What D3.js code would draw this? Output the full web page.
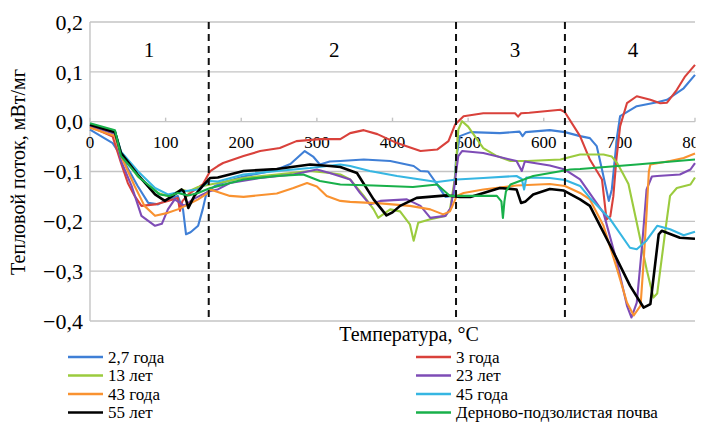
<!DOCTYPE html>
<html><head><meta charset="utf-8">
<script src="https://cdn.jsdelivr.net/npm/d3@7"></script>
</head><body style="margin:0">
<svg id="c" width="712" height="422"></svg>
<script>
// ---- data ----
const xTicks = [0,100,200,300,400,500,600,700,800];
const yTicks = [0.2,0.1,0,-0.1,-0.2,-0.3,-0.4];
const regionBounds = [157,484,628];
const regionLabels = ["1","2","3","4"];
const regionLabelT = [78,323,562,718];
const seriesNames = ["2,7 года","3 года","13 лет","23 лет","43 года","45 года","55 лет","Дерново-подзолистая почва"];
const seriesColors = ["#3f7fd6","#d9413b","#9bcb3e","#7e4cb6","#f99230","#36b6e2","#000000","#18b04a"];

const s27 = [[0,-0.016],[30,-0.043],[41,-0.069],[63,-0.129],[77,-0.163],[90,-0.166],[103,-0.156],[116,-0.149],[123,-0.176],[127,-0.226],[133,-0.222],[143,-0.209],[149,-0.176],[154,-0.143],[165,-0.129],[180,-0.12],[203,-0.11],[230,-0.102],[247,-0.096],[265,-0.085],[284,-0.059],[295,-0.07],[304,-0.086],[317,-0.08],[331,-0.079],[362,-0.076],[397,-0.079],[428,-0.089],[437,-0.099],[447,-0.1],[459,-0.126],[470,-0.151],[481,-0.148],[484,-0.076],[489,-0.029],[503,-0.021],[542,-0.023],[568,-0.02],[572,-0.029],[576,-0.021],[608,-0.017],[628,-0.021],[648,-0.029],[661,-0.033],[670,-0.049],[677,-0.096],[686,-0.159],[690,-0.136],[697,-0.029],[701,0.011],[723,0.031],[750,0.039],[763,0.044],[785,0.067],[800,0.094]];
const s3 = [[0,-0.01],[30,-0.03],[41,-0.083],[50,-0.123],[59,-0.149],[68,-0.169],[86,-0.166],[103,-0.159],[116,-0.153],[119,-0.179],[122,-0.16],[130,-0.146],[149,-0.126],[159,-0.099],[169,-0.089],[176,-0.083],[203,-0.069],[225,-0.059],[251,-0.053],[273,-0.039],[304,-0.035],[331,-0.035],[344,-0.023],[362,-0.017],[380,-0.025],[406,-0.043],[437,-0.059],[459,-0.056],[474,-0.039],[483,-0.005],[494,0.011],[520,0.017],[562,0.017],[566,0.01],[570,0.017],[581,0.018],[622,0.024],[628,0.019],[648,-0.029],[661,-0.076],[677,-0.116],[683,-0.196],[688,-0.19],[692,-0.15],[696,-0.076],[701,-0.009],[710,0.037],[723,0.051],[741,0.044],[754,0.037],[763,0.038],[776,0.064],[787,0.091],[800,0.114]];
const s13 = [[0,-0.005],[33,-0.02],[41,-0.062],[63,-0.11],[90,-0.143],[105,-0.15],[121,-0.136],[130,-0.14],[143,-0.131],[159,-0.126],[203,-0.113],[247,-0.106],[291,-0.099],[317,-0.103],[331,-0.106],[344,-0.116],[362,-0.149],[375,-0.176],[381,-0.193],[397,-0.176],[410,-0.18],[423,-0.206],[428,-0.239],[434,-0.203],[450,-0.196],[470,-0.189],[476,-0.176],[483,-0.109],[487,-0.016],[492,0.001],[500,-0.01],[520,-0.053],[538,-0.069],[556,-0.079],[578,-0.079],[622,-0.076],[648,-0.066],[679,-0.066],[690,-0.07],[697,-0.083],[705,-0.105],[712,-0.125],[723,-0.203],[736,-0.296],[745,-0.353],[750,-0.345],[761,-0.216],[767,-0.149],[776,-0.133],[794,-0.126],[800,-0.112]];
const s23 = [[0,-0.008],[33,-0.025],[41,-0.079],[55,-0.129],[68,-0.189],[86,-0.209],[95,-0.205],[103,-0.176],[112,-0.156],[118,-0.162],[125,-0.169],[136,-0.156],[149,-0.146],[159,-0.139],[169,-0.136],[185,-0.123],[225,-0.113],[269,-0.106],[300,-0.096],[317,-0.103],[344,-0.116],[357,-0.143],[370,-0.166],[384,-0.159],[419,-0.156],[437,-0.169],[450,-0.193],[470,-0.189],[477,-0.173],[481,-0.136],[487,-0.069],[492,-0.059],[520,-0.063],[564,-0.079],[571,-0.099],[575,-0.08],[608,-0.088],[628,-0.096],[648,-0.116],[679,-0.183],[697,-0.283],[710,-0.369],[716,-0.393],[723,-0.363],[730,-0.249],[736,-0.136],[743,-0.11],[750,-0.109],[780,-0.106],[794,-0.096],[800,-0.083]];
const s43 = [[0,-0.012],[33,-0.029],[41,-0.069],[59,-0.129],[72,-0.169],[86,-0.189],[103,-0.183],[116,-0.176],[130,-0.166],[143,-0.156],[156,-0.143],[159,-0.136],[185,-0.149],[203,-0.151],[247,-0.144],[269,-0.133],[287,-0.123],[300,-0.13],[313,-0.149],[331,-0.159],[344,-0.161],[384,-0.164],[423,-0.169],[450,-0.176],[467,-0.186],[476,-0.18],[481,-0.163],[485,-0.149],[494,-0.143],[520,-0.136],[564,-0.128],[608,-0.125],[628,-0.129],[648,-0.143],[661,-0.156],[679,-0.209],[697,-0.296],[710,-0.363],[719,-0.389],[728,-0.369],[732,-0.283],[736,-0.183],[739,-0.1],[741,-0.086],[767,-0.079],[785,-0.073],[800,-0.064]];
const s45 = [[0,-0.005],[33,-0.019],[41,-0.06],[63,-0.099],[86,-0.133],[103,-0.146],[121,-0.14],[143,-0.136],[159,-0.119],[169,-0.12],[203,-0.106],[247,-0.099],[291,-0.093],[331,-0.086],[344,-0.089],[370,-0.099],[406,-0.109],[437,-0.116],[459,-0.121],[485,-0.116],[520,-0.113],[564,-0.109],[571,-0.115],[574,-0.136],[577,-0.112],[608,-0.113],[628,-0.117],[648,-0.129],[661,-0.153],[688,-0.196],[714,-0.253],[723,-0.256],[735,-0.24],[750,-0.209],[767,-0.216],[785,-0.228],[800,-0.221]];
const s55 = [[0,-0.006],[33,-0.021],[41,-0.063],[63,-0.106],[86,-0.146],[99,-0.159],[110,-0.148],[121,-0.136],[124,-0.14],[130,-0.173],[138,-0.149],[149,-0.129],[159,-0.113],[169,-0.112],[203,-0.099],[247,-0.095],[291,-0.086],[317,-0.089],[331,-0.091],[353,-0.103],[375,-0.156],[392,-0.188],[400,-0.182],[410,-0.169],[432,-0.153],[472,-0.148],[489,-0.151],[503,-0.151],[542,-0.133],[564,-0.136],[570,-0.163],[576,-0.16],[586,-0.146],[608,-0.135],[626,-0.138],[648,-0.156],[661,-0.169],[688,-0.249],[714,-0.329],[732,-0.373],[741,-0.366],[752,-0.226],[756,-0.219],[780,-0.233],[800,-0.235]];
const sSoil = [[0,-0.003],[33,-0.017],[41,-0.069],[66,-0.113],[92,-0.146],[105,-0.149],[116,-0.143],[130,-0.148],[143,-0.143],[159,-0.133],[165,-0.131],[203,-0.116],[247,-0.109],[282,-0.106],[304,-0.119],[331,-0.126],[375,-0.128],[427,-0.131],[459,-0.126],[476,-0.149],[538,-0.149],[544,-0.16],[546,-0.193],[548,-0.16],[550,-0.14],[556,-0.126],[586,-0.109],[635,-0.096],[648,-0.095],[723,-0.086],[800,-0.076]];
const seriesData = [s27,s3,s13,s23,s43,s45,s55,sSoil];

// ---- chart ----
const FAM = "'Times New Roman'";
const svg = d3.select("#c");
const X0=90, X1=695, YT=22, YB=321;
const x = d3.scaleLinear().domain([0,800]).range([X0,X1]);
const y = d3.scaleLinear().domain([-0.4,0.2]).range([YB,YT]);
const loc = d3.formatLocale({decimal:",",thousands:" ",grouping:[3],currency:["",""],minus:"\u2212"});
const fmt = loc.format(".1f");

// gridlines, spine, x ticks (from the scales)
const gGrid = svg.append("g");
gGrid.selectAll("line.gl").data(yTicks).join("line").attr("class","gl")
  .attr("x1",X0).attr("x2",X1).attr("y1",d=>y(d)).attr("y2",d=>y(d))
  .attr("stroke","#c4c4c4").attr("stroke-width",1.4);
gGrid.append("line").attr("x1",X0).attr("x2",X0).attr("y1",YT).attr("y2",YB)
  .attr("stroke","#c4c4c4").attr("stroke-width",1.4);
gGrid.selectAll("line.xt").data(xTicks).join("line").attr("class","xt")
  .attr("x1",d=>x(d)).attr("x2",d=>x(d)).attr("y1",y(0)).attr("y2",y(0)-4)
  .attr("stroke","#c4c4c4").attr("stroke-width",1.4);

svg.selectAll("text.yl").data(yTicks).join("text").attr("class","yl")
  .attr("x",X0-7).attr("y",d=>y(d)).attr("dy","0.35em").attr("text-anchor","end")
  .style("font-family",FAM).style("font-size","22px").text(d=>fmt(d));

svg.append("defs").append("clipPath").attr("id","xclip")
  .append("rect").attr("x",0).attr("y",0).attr("width",X1+0.5).attr("height",422);
svg.append("g").attr("clip-path","url(#xclip)")
  .selectAll("text").data(xTicks).join("text")
  .attr("x",d=>x(d)).attr("y",y(0)+14).attr("dy","0.71em").attr("text-anchor","middle")
  .style("font-family",FAM).style("font-size","17px").text(d=>d);

// series
const line = d3.line().x(d=>x(d[0])).y(d=>y(d[1]));
seriesData.forEach((s,i)=>{
  svg.append("path").datum(s).attr("d",line).attr("fill","none")
    .attr("stroke",seriesColors[i]).attr("stroke-width",i===6?2.6:2.1)
    .attr("stroke-linejoin","round");
});

// region boundaries
svg.append("g").selectAll("line").data(regionBounds).join("line")
  .attr("x1",d=>x(d)).attr("x2",d=>x(d)).attr("y1",YT).attr("y2",YB-4)
  .attr("stroke","#111").attr("stroke-width",2).attr("stroke-dasharray","7,5");

svg.selectAll("text.rl").data(regionLabels).join("text").attr("class","rl")
  .attr("x",(d,i)=>x(regionLabelT[i])).attr("y",57).attr("text-anchor","middle")
  .style("font-family",FAM).style("font-size","21px").text(d=>d);

// axis titles
svg.append("text").attr("x",409).attr("y",341).attr("text-anchor","middle")
  .style("font-family",FAM).style("font-size","20px").text("Температура, °С");
svg.append("text").attr("transform","translate(25,172) rotate(-90)").attr("text-anchor","middle")
  .style("font-family",FAM).style("font-size","20px").text("Тепловой поток, мВт/мг");

// legend
const legX=[68,416], legY=[357,375.5,394,412.5];
seriesNames.forEach((n,i)=>{
  const col=i%2, row=Math.floor(i/2);
  svg.append("line").attr("x1",legX[col]).attr("x2",legX[col]+35)
    .attr("y1",legY[row]).attr("y2",legY[row])
    .attr("stroke",seriesColors[i]).attr("stroke-width",2.6);
  svg.append("text").attr("x",legX[col]+40).attr("y",legY[row]+5.5)
    .style("font-family",FAM).style("font-size","17px").text(n);
});
</script>
</body></html>
